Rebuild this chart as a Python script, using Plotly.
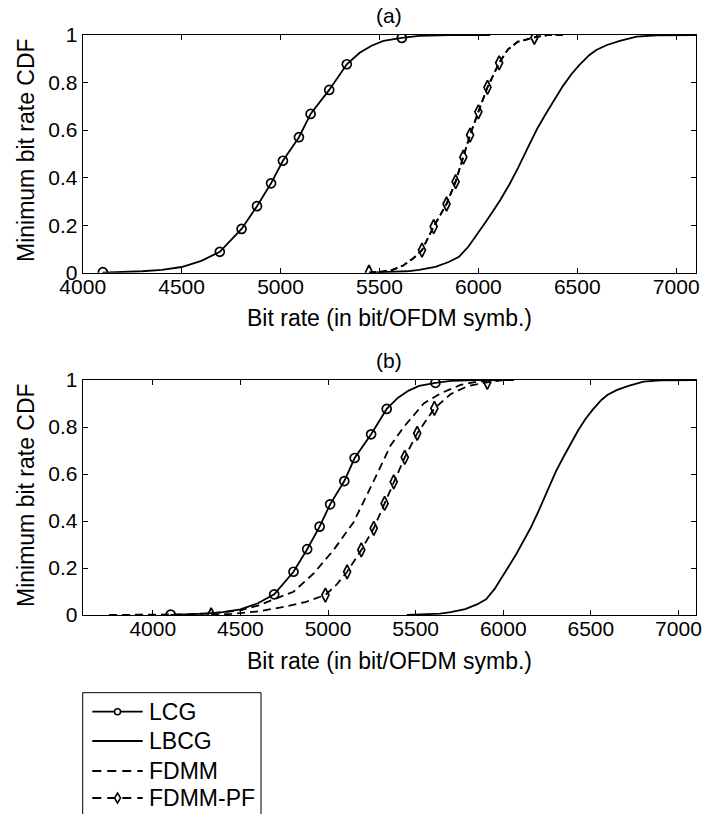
import plotly.graph_objects as go

# ---------------- data ----------------
ticks_x = [4000, 4500, 5000, 5500, 6000, 6500, 7000]
ticks_y = [0, 0.2, 0.4, 0.6, 0.8, 1]
tick_y_text = ["0", "0.2", "0.4", "0.6", "0.8", "1"]

# LCG (same in both panels)
lcg_x = [4100, 4200, 4300, 4400, 4500, 4600, 4693, 4803, 4881, 4952, 5012, 5093, 5152,
         5246, 5335, 5400, 5460, 5520, 5613, 5700, 5850, 6060]
lcg_y = [0.0, 0.002, 0.006, 0.012, 0.024, 0.05, 0.088, 0.184, 0.28, 0.376, 0.471, 0.57, 0.668,
         0.769, 0.877, 0.925, 0.955, 0.975, 0.988, 0.996, 1.0, 1.0]
lcg_mx = [4102, 4693, 4803, 4881, 4952, 5012, 5093, 5152, 5246, 5335, 5613]
lcg_my = [0.002, 0.088, 0.184, 0.28, 0.376, 0.471, 0.57, 0.668, 0.769, 0.877, 0.988]

# LBCG (same in both panels)
lbcg_x = [5450, 5550, 5640, 5700, 5783, 5850, 5902, 5950, 5986, 6030, 6071, 6110, 6156, 6200,
          6258, 6300, 6342, 6385, 6427, 6470, 6512, 6560, 6596, 6650, 6715, 6800, 6900, 7100]
lbcg_y = [0.0, 0.002, 0.006, 0.012, 0.025, 0.045, 0.067, 0.11, 0.151, 0.205, 0.255, 0.305, 0.37,
          0.44, 0.54, 0.61, 0.67, 0.73, 0.785, 0.835, 0.875, 0.915, 0.937, 0.958, 0.975, 0.993,
          0.999, 1.0]

# Panel (a): FDMM and FDMM-PF overlap
fdmmpf_a_x = [5447, 5500, 5560, 5620, 5670, 5715, 5774, 5839, 5885, 5924, 5958, 6000, 6046,
              6105, 6150, 6200, 6283, 6350, 6430]
fdmmpf_a_y = [0.0, 0.003, 0.01, 0.03, 0.06, 0.095, 0.194, 0.289, 0.383, 0.486, 0.579, 0.677,
              0.78, 0.883, 0.94, 0.972, 0.99, 1.0, 1.0]
fdmmpf_a_mx = [5447, 5715, 5774, 5839, 5885, 5924, 5958, 6000, 6046, 6105, 6283]
fdmmpf_a_my = [0.002, 0.095, 0.194, 0.289, 0.383, 0.486, 0.579, 0.677, 0.78, 0.883, 0.99]
fdmm_a_x = [5447, 5500, 5560, 5620, 5670, 5715, 5774, 5839, 5885, 5924, 5958, 6000, 6046,
            6105, 6150, 6200, 6283, 6350, 6430]
fdmm_a_y = [0.0, 0.003, 0.01, 0.03, 0.06, 0.095, 0.194, 0.289, 0.383, 0.486, 0.579, 0.677,
            0.78, 0.883, 0.94, 0.972, 0.99, 1.0, 1.0]

# Panel (b)
fdmm_b_x = [3750, 3900, 4050, 4200, 4350, 4500, 4600, 4700, 4803, 4918, 5032, 5146, 5203, 5280,
            5356, 5432, 5546, 5642, 5756, 5850, 5950, 6060]
fdmm_b_y = [0.0, 0.0, 0.001, 0.003, 0.008, 0.02, 0.04, 0.068, 0.099, 0.177, 0.277, 0.395, 0.48,
            0.6, 0.72, 0.8, 0.9, 0.943, 0.979, 0.993, 0.999, 1.0]
fdmmpf_b_x = [4333, 4450, 4600, 4750, 4870, 4985, 5050, 5109, 5190, 5261, 5323, 5375, 5438,
              5509, 5607, 5700, 5800, 5909, 6000]
fdmmpf_b_y = [0.0, 0.005, 0.015, 0.035, 0.055, 0.085, 0.13, 0.184, 0.277, 0.369, 0.475, 0.567,
              0.671, 0.773, 0.879, 0.94, 0.975, 0.99, 1.0]
fdmmpf_b_mx = [4333, 4985, 5109, 5190, 5261, 5323, 5375, 5438, 5509, 5607, 5909]
fdmmpf_b_my = [0.0, 0.085, 0.184, 0.277, 0.369, 0.475, 0.567, 0.671, 0.773, 0.879, 0.99]

legend_names = ["LCG", "LBCG", "FDMM", "FDMM-PF"]

# ---------------- figure ----------------
W, H = 703, 814
FONT = "Liberation Sans, Arial, sans-serif"
BLACK = "#000000"

def px(x):
    return x / W

def py(y):
    return 1 - y / H

fig = go.Figure()

def add_line(x, y, xa, ya, dash="solid", width=1.8):
    fig.add_trace(go.Scatter(x=x, y=y, mode="lines", xaxis=xa, yaxis=ya, showlegend=False,
                             line=dict(color=BLACK, width=width, dash=dash), hoverinfo="skip"))

def add_markers(x, y, xa, ya, symbol, size):
    fig.add_trace(go.Scatter(x=x, y=y, mode="markers", xaxis=xa, yaxis=ya, showlegend=False,
                             marker=dict(symbol=symbol, size=size, color=BLACK,
                                         line=dict(color=BLACK, width=1.7)),
                             hoverinfo="skip"))

# panel (a)
add_line(lbcg_x, lbcg_y, "x", "y")
add_line(fdmm_a_x, fdmm_a_y, "x", "y", dash="7px,4px")
add_line(fdmmpf_a_x, fdmmpf_a_y, "x", "y", dash="7px,4px")
add_markers(fdmmpf_a_mx, fdmmpf_a_my, "x", "y", "diamond-tall-open", 10)
add_line(lcg_x, lcg_y, "x", "y")
add_markers(lcg_mx, lcg_my, "x", "y", "circle-open", 9)

# panel (b)
add_line(lbcg_x, lbcg_y, "x2", "y2")
add_line(fdmm_b_x, fdmm_b_y, "x2", "y2", dash="8px,5px")
add_line(fdmmpf_b_x, fdmmpf_b_y, "x2", "y2", dash="8px,5px")
add_markers(fdmmpf_b_mx, fdmmpf_b_my, "x2", "y2", "diamond-tall-open", 10)
add_line(lcg_x, lcg_y, "x2", "y2")
add_markers(lcg_mx, lcg_my, "x2", "y2", "circle-open", 9)

axis_common = dict(showline=True, linecolor=BLACK, linewidth=1, mirror="ticks",
                   ticks="inside", ticklen=5, tickcolor=BLACK, tickwidth=1,
                   showgrid=False, zeroline=False, automargin=False,
                   tickfont=dict(family=FONT, size=21, color=BLACK))
x_extra = dict(ticklabelstandoff=-5)

L, R = 82.7, 696
fig.update_layout(
    template="none",
    width=W, height=H, margin=dict(l=0, r=0, t=0, b=0, pad=0),
    paper_bgcolor="white", plot_bgcolor="white", showlegend=False,
    xaxis=dict(domain=[px(L), px(R)], range=[4000, 7100], tickvals=ticks_x,
               anchor="y", **axis_common, **x_extra),
    yaxis=dict(domain=[py(272.7), py(35)], range=[0, 1], tickvals=ticks_y,
               ticktext=tick_y_text, anchor="x", **axis_common),
    xaxis2=dict(domain=[px(L), px(R)], range=[3600, 7100], tickvals=ticks_x,
                anchor="y2", **axis_common, **x_extra),
    yaxis2=dict(domain=[py(615), py(380)], range=[0, 1], tickvals=ticks_y,
                ticktext=tick_y_text, anchor="x2", **axis_common),
)

ann = []
def text(x, y, s, size=22, angle=0, xanchor="center"):
    ann.append(dict(x=px(x), y=py(y), xref="paper", yref="paper", text=s, showarrow=False,
                    xanchor=xanchor, yanchor="middle", textangle=angle,
                    font=dict(family=FONT, size=size, color=BLACK)))

text(389, 15, "(a)", 21)
text(389, 360, "(b)", 21)
text(389, 318, "Bit rate (in bit/OFDM symb.)", 23)
text(389, 661, "Bit rate (in bit/OFDM symb.)", 23)
text(26, 150, "Minimum bit rate CDF", 23, angle=-90)
text(26, 495, "Minimum bit rate CDF", 23, angle=-90)

# ---------------- legend (manual box, cut off at the bottom) ----------------
shapes = []
shapes.append(dict(type="rect", xref="paper", yref="paper", x0=px(82.7), x1=px(261),
                   y0=py(692.7), y1=py(840), line=dict(color=BLACK, width=1),
                   fillcolor="white", layer="above"))
rows = [711.7, 741, 771, 798]
styles = ["solid", "solid", "dash", "dash"]
for name, yy, st in zip(legend_names, rows, styles):
    shapes.append(dict(type="line", xref="paper", yref="paper", x0=px(92.3), x1=px(142.7),
                       y0=py(yy), y1=py(yy),
                       line=dict(color=BLACK, width=1.8,
                                 dash="solid" if st == "solid" else "9px,6px"),
                       layer="above"))
    text(147, yy, name, 23, xanchor="left")
# legend markers
cx = 117.5
shapes.append(dict(type="circle", xref="paper", yref="paper", x0=px(cx - 3), x1=px(cx + 3),
                   y0=py(rows[0] - 3), y1=py(rows[0] + 3), line=dict(color=BLACK, width=1.5),
                   fillcolor="white", layer="above"))
d_y = rows[3]
shapes.append(dict(type="path", xref="paper", yref="paper",
                   path=f"M {px(cx)},{py(d_y - 5)} L {px(cx + 3)},{py(d_y)} L {px(cx)},{py(d_y + 5)} "
                        f"L {px(cx - 3)},{py(d_y)} Z",
                   line=dict(color=BLACK, width=1.5), fillcolor="white", layer="above"))

fig.update_layout(annotations=ann, shapes=shapes)
fig.write_html("out.html")
